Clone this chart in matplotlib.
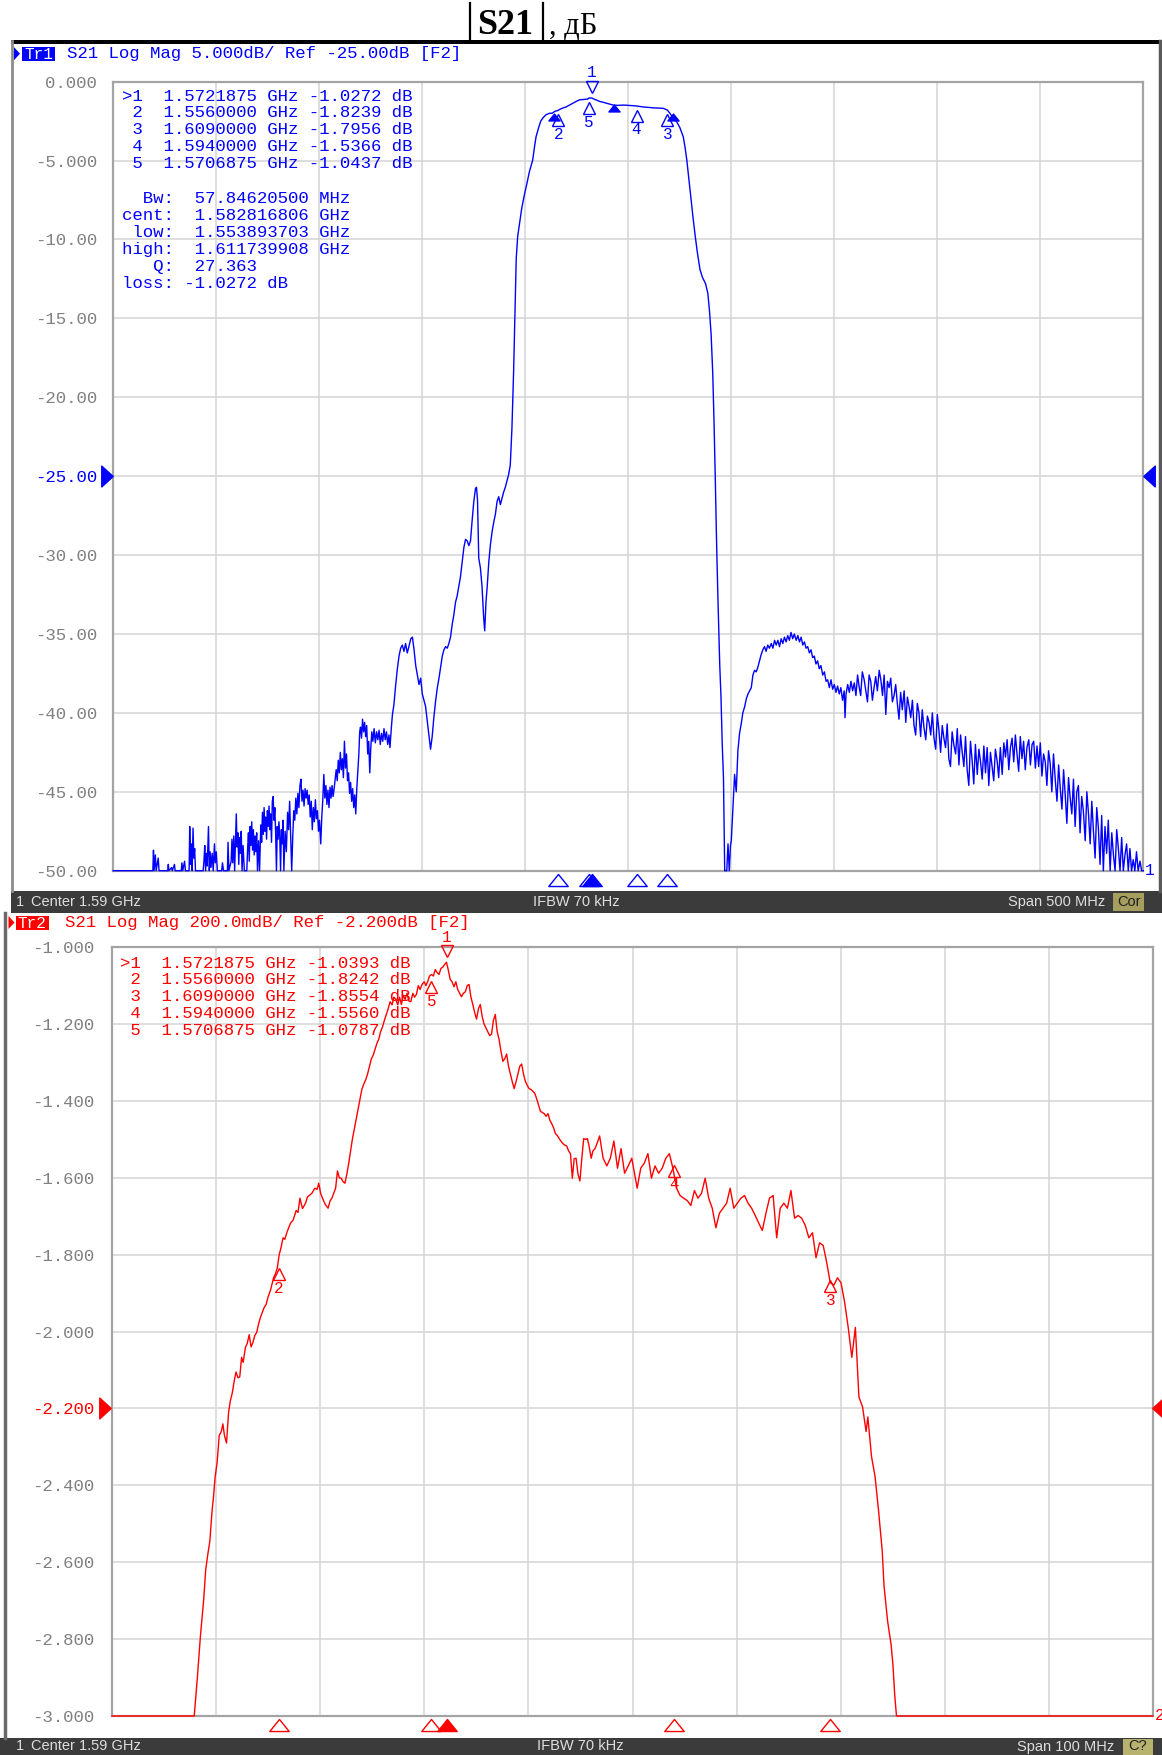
import numpy as np
import matplotlib
matplotlib.use("Agg")
import matplotlib.pyplot as plt
from matplotlib.patches import Rectangle, Polygon
from matplotlib.path import Path
from matplotlib.transforms import offset_copy, blended_transform_factory

# ---------------- instrument settings ----------------
center_ghz = 1.59
top_span_mhz = 500
bot_span_mhz = 100
ifbw_khz = 70
top_scale_db = 5.0
top_ref_db = -25.0
bot_scale_mdb = 200.0
bot_ref_db = -2.2

top_yticks = [0, -5, -10, -15, -20, -25, -30, -35, -40, -45, -50]
top_ylabels = ["0.000", "-5.000", "-10.00", "-15.00", "-20.00", "-25.00",
               "-30.00", "-35.00", "-40.00", "-45.00", "-50.00"]
bot_yticks = [-1.0, -1.2, -1.4, -1.6, -1.8, -2.0, -2.2, -2.4, -2.6, -2.8, -3.0]
bot_ylabels = ["-1.000", "-1.200", "-1.400", "-1.600", "-1.800", "-2.000",
               "-2.200", "-2.400", "-2.600", "-2.800", "-3.000"]

# ---------------- markers ----------------
marker_ghz = [1.5721875, 1.5560000, 1.6090000, 1.5940000, 1.5706875]
top_marker_db = [-1.0272, -1.8239, -1.7956, -1.5366, -1.0437]
bot_marker_db = [-1.0393, -1.8242, -1.8554, -1.5560, -1.0787]
bw_mhz = 57.84620500
bw_cent_ghz = 1.582816806
bw_low_ghz = 1.553893703
bw_high_ghz = 1.611739908
bw_q = 27.363
bw_loss_db = -1.0272
bw_marker_ghz = [bw_low_ghz, bw_cent_ghz, bw_high_ghz]
bw_marker_db = [-2.03, -1.48, -2.03]

# ---------------- top trace (500 MHz span), MHz / dB ----------------
top_mhz_left = [
    1340, 1359.2, 1359.5, 1359.8, 1360.4, 1360.8, 1361.8, 1362.2, 1366.4, 1366.7,
    1367.0, 1368.3, 1368.6, 1369.7, 1370.0, 1373.0, 1373.3, 1373.7, 1374.6, 1375.0,
    1376.8, 1377.1, 1377.5, 1377.9, 1378.3, 1378.7, 1379.1, 1379.5, 1379.9, 1383.6,
    1384.0, 1384.4, 1384.8, 1385.2, 1385.6, 1386.2, 1386.6, 1387.0, 1387.4, 1388.0,
    1388.5, 1389.1, 1389.5, 1390.0, 1390.5, 1392.6, 1393.0, 1393.5, 1395.4, 1395.7,
    1396.1, 1397.2, 1397.6, 1398.0, 1398.5, 1398.9, 1399.3, 1399.7, 1400.1, 1400.5,
    1400.9, 1401.3, 1401.7, 1402.1, 1402.5, 1403.0, 1403.6, 1404.8, 1405.2, 1405.6,
    1406.0, 1406.4, 1406.8, 1407.2, 1407.6, 1408.0, 1408.4, 1408.8, 1409.2, 1409.6,
    1410.0, 1410.5, 1411.0, 1411.6, 1412.0, 1412.4, 1412.8, 1413.2, 1413.6, 1414.0,
    1414.4, 1414.8, 1415.2, 1415.6, 1416.0, 1416.4, 1416.8, 1417.2, 1417.6, 1418.0,
    1418.4, 1418.8, 1419.2, 1419.6, 1420.0, 1420.4, 1420.8, 1421.2, 1421.6, 1422.0,
    1422.4, 1422.8, 1423.4, 1424.0, 1424.6, 1425.1, 1425.6, 1426.1, 1426.6, 1427.1,
    1427.6, 1428.1, 1428.6, 1429.1, 1429.6, 1430.1, 1430.6, 1431.1, 1431.6, 1432.1,
    1432.6, 1433.1, 1433.6, 1434.1, 1434.6, 1435.1, 1435.6, 1436.1, 1436.6, 1437.1,
    1437.6, 1438.1, 1438.6, 1439.1, 1439.6, 1440.1, 1440.7, 1441.2, 1441.7, 1442.2,
    1442.7, 1443.2, 1443.7, 1444.2, 1444.7, 1445.2, 1445.7, 1446.2, 1446.7, 1447.2,
    1447.7, 1448.2, 1448.7, 1449.2, 1449.7, 1450.2, 1450.7, 1451.2, 1451.7, 1452.2,
    1452.7, 1453.2, 1453.7, 1454.2, 1454.7, 1455.2, 1455.7, 1456.2, 1456.7, 1457.2,
    1457.7, 1458.2, 1458.7, 1459.2, 1459.6, 1460.0, 1460.5, 1461.0, 1461.5, 1462.0,
    1462.5, 1463.0, 1463.5, 1464.0, 1464.5, 1465.0, 1465.5, 1466.0, 1466.6, 1467.2,
    1467.8, 1468.4, 1469.0, 1469.6, 1470.2, 1470.8, 1471.4, 1472.0, 1472.6, 1473.2,
    1473.8, 1474.3, 1475.0, 1475.5, 1476.2, 1477.1, 1477.9, 1478.7, 1479.5, 1480.3,
    1481.1, 1481.9, 1482.7, 1483.5, 1484.4, 1485.2, 1486.0, 1486.8, 1487.6, 1488.4,
    1489.2, 1490.0, 1491.6, 1492.4, 1493.2, 1494.0, 1494.8, 1495.6, 1496.5, 1497.3,
    1498.1, 1498.9, 1499.7, 1500.5, 1501.3, 1502.1, 1502.9, 1503.7, 1504.5, 1505.3,
    1506.1, 1506.9, 1507.7, 1508.5, 1509.4, 1510.2, 1511.0, 1511.8, 1512.6, 1513.4,
    1514.2, 1515.0, 1515.8, 1516.3, 1516.8, 1517.4, 1518.2, 1519.0, 1519.8, 1520.3,
    1520.9, 1521.5, 1522.3, 1523.1, 1523.9, 1524.7, 1525.5, 1526.3, 1527.1, 1527.9,
    1528.7, 1529.5, 1530.3, 1531.1, 1531.9, 1532.7,
]
top_db_left = [
    -50, -50, -48.7, -50, -49.0, -50, -49.2, -50, -50, -49.6,
    -50, -49.8, -50, -49.6, -50, -50, -49.5, -50, -49.4, -50,
    -50, -47.2, -49.6, -48.3, -50, -47.3, -49.2, -48.6, -50, -50,
    -49.4, -48.4, -50, -48.9, -49.7, -47.2, -50, -48.8, -49.8, -48.9,
    -50, -48.3, -49.5, -48.8, -50, -50, -49.5, -50, -50, -48.2,
    -50, -49.4, -48.0, -49.5, -47.8, -50, -48.2, -46.4, -48.5, -47.6,
    -49.6, -47.9, -48.9, -47.5, -50, -48.4, -50, -50, -48.6, -47.6,
    -49.4, -47.2, -48.4, -46.9, -48.7, -47.4, -49.0, -47.8, -48.8, -47.6,
    -50, -48.1, -50, -47.1, -48.2, -46.3, -47.7, -46.0, -47.5, -46.6,
    -48.0, -46.2, -47.2, -45.9, -47.4, -46.4, -48.2, -45.6, -45.3, -46.8,
    -46.0, -47.6, -50, -47.2, -48.0, -46.9, -47.8, -50, -47.4, -48.3,
    -46.8, -50, -47.5, -48.8, -46.3, -47.4, -45.6, -47.8, -50, -47.9,
    -46.2, -46.8, -45.4, -46.4, -45.1, -46.0, -44.6, -44.2, -45.6, -44.9,
    -45.9, -44.8, -45.4, -44.9, -45.8, -45.2, -46.6, -45.6, -47.4, -46.0,
    -46.9, -45.5, -46.7, -46.2, -47.5, -46.8, -48.3, -46.6, -45.5, -43.9,
    -45.4, -44.6, -45.8, -44.9, -46.0, -44.7, -45.4, -44.6, -45.3, -44.8,
    -44.2, -43.6, -44.3, -43.0, -43.8, -42.5, -43.6, -42.9, -44.1, -41.8,
    -43.5, -42.6, -44.3, -43.8, -45.1, -44.4, -45.6, -44.8, -46.0, -45.2,
    -46.4, -44.8, -43.7, -42.6, -41.2, -40.9, -41.6, -40.4, -41.2, -40.6,
    -41.5, -40.8, -42.6, -41.8, -43.8, -42.2, -41.2, -41.8, -41.0, -41.9,
    -41.2, -41.7, -41.1, -42.0, -41.3, -41.8, -41.0, -41.7, -41.2, -42.0,
    -41.4, -42.2, -40.9, -40.1, -39.5, -38.2, -37.2, -36.4, -35.9, -35.7,
    -36.1, -35.6, -36.2, -35.8, -35.3, -35.2, -36.0, -37.0, -37.6, -38.2,
    -37.8, -38.8, -39.6, -40.5, -41.4, -42.3, -41.5, -40.3, -39.2, -38.4,
    -37.8, -37.1, -36.4, -36.0, -35.8, -35.9, -35.6, -35.2, -34.4, -33.8,
    -33.0, -32.6, -32.0, -31.4, -30.4, -29.5, -29.0, -29.1, -29.4, -29.1,
    -27.8, -26.6, -25.8, -25.7, -26.5, -30.2, -30.8, -32.0, -34.0, -34.8,
    -33.0, -32.0, -30.4, -29.3, -28.5, -27.9, -27.4, -26.6, -26.3, -26.8,
    -26.4, -26.0, -25.7, -25.3, -24.9, -24.3,
]
top_mhz_pass = [
    1533.5, 1534.3, 1535.0, 1535.6, 1536.3, 1537.2, 1538.3, 1539.5, 1540.7, 1542.0,
    1543.6, 1544.5, 1545.2, 1546.5, 1547.5, 1548.5, 1550.0, 1551.7, 1553.0, 1554.1,
    1555.0, 1556.0, 1556.6, 1558.0, 1559.8, 1561.5, 1563.1, 1564.7, 1566.3, 1568.5,
    1570.4, 1570.7, 1572.2, 1573.7, 1576.1, 1577.7, 1579.3, 1581.0, 1582.6, 1585.0,
    1587.5, 1590.0, 1592.4, 1594.0, 1597.2, 1600.0, 1602.1, 1604.5, 1607.0, 1609.0,
    1610.2, 1611.7, 1613.5, 1615.0, 1616.7, 1617.6, 1618.4, 1619.5, 1620.5, 1621.5,
    1622.5, 1623.5, 1624.8, 1626.0, 1627.5, 1628.6, 1629.4, 1630.2, 1631.0, 1631.6,
    1632.2, 1632.9, 1633.6, 1634.4, 1635.0, 1635.6, 1636.2, 1636.8,
]
top_db_pass = [
    -22.0, -18.5, -14.5, -11.2, -9.8, -9.0, -8.0, -7.2, -6.5, -5.7,
    -4.96, -4.1, -3.5, -2.9, -2.5, -2.3, -2.1, -2.0, -2.0, -1.9,
    -1.85, -1.82, -1.76, -1.68, -1.6, -1.48, -1.36, -1.25, -1.15, -1.12,
    -1.1, -1.04, -1.03, -1.12, -1.25, -1.3, -1.36, -1.42, -1.48, -1.5,
    -1.48, -1.5, -1.52, -1.54, -1.6, -1.63, -1.66, -1.67, -1.69, -1.8,
    -2.0, -2.3, -2.54, -2.9, -3.5, -4.2, -4.96, -6.3, -7.5, -8.7,
    -9.8, -10.8, -11.9, -12.4, -12.8, -13.4, -14.5, -16.0, -18.5, -21.5,
    -25.0, -29.5, -33.2, -37.0, -39.0, -42.0, -44.1, -50,
]
top_mhz_right = [
    1637.8, 1638.4, 1639.0, 1639.6, 1640.0, 1640.8, 1641.6, 1642.4, 1643.2, 1644.0,
    1644.8, 1645.6, 1646.5, 1647.3, 1648.1, 1648.9, 1649.7, 1650.5, 1651.3, 1652.1,
    1652.9, 1653.7, 1654.5, 1655.3, 1656.1, 1656.9, 1657.7, 1658.5, 1659.4, 1660.2,
    1661.0, 1661.8, 1662.6, 1663.4, 1664.2, 1665.0, 1665.8, 1666.6, 1667.4, 1668.2,
    1669.0, 1669.8, 1670.6, 1671.5, 1672.3, 1673.1, 1673.9, 1674.7, 1675.5, 1676.3,
    1677.1, 1677.9, 1678.7, 1679.5, 1680.3, 1681.1, 1681.9, 1682.7, 1683.5, 1684.4,
    1685.2, 1686.0, 1686.8, 1687.6, 1688.4, 1689.2, 1690.0, 1690.8, 1691.6, 1692.4,
    1693.2, 1694.0, 1694.8, 1695.2, 1695.7, 1696.5, 1697.3, 1698.1, 1698.9, 1699.7,
    1700.5, 1701.3, 1702.0, 1702.8, 1703.6, 1704.5, 1705.3, 1706.1, 1706.9, 1707.7,
    1708.5, 1709.3, 1710.1, 1710.9, 1711.8, 1712.6, 1713.4, 1714.2, 1715.0, 1715.8,
    1716.6, 1717.4, 1718.2, 1719.0, 1719.8, 1720.6, 1721.4, 1722.2, 1723.0, 1723.9,
    1724.7, 1725.5, 1726.3, 1727.1, 1727.9, 1728.7, 1729.5, 1730.3, 1731.1, 1731.9,
    1732.7, 1733.5, 1734.4, 1735.2, 1736.0, 1736.8, 1737.6, 1738.4, 1739.2, 1740.0,
    1740.8, 1741.6, 1742.4, 1743.2, 1744.0, 1744.8, 1745.6, 1746.4, 1747.2, 1748.0,
    1748.9, 1749.7, 1750.5, 1751.3, 1752.1, 1752.9, 1753.7, 1754.5, 1755.3, 1756.1,
    1756.9, 1757.7, 1758.5, 1759.4, 1760.2, 1761.0, 1761.8, 1762.6, 1763.4, 1764.2,
    1765.0, 1765.8, 1766.6, 1767.4, 1768.2, 1769.0, 1769.8, 1770.6, 1771.5, 1772.3,
    1773.1, 1773.9, 1774.7, 1775.5, 1776.3, 1777.1, 1777.9, 1778.7, 1779.5, 1780.3,
    1781.1, 1781.9, 1782.7, 1783.5, 1784.4, 1785.2, 1786.0, 1786.8, 1787.6, 1788.4,
    1789.2, 1790.0, 1790.8, 1791.6, 1792.4, 1793.2, 1794.0, 1794.8, 1795.6, 1796.4,
    1797.3, 1798.1, 1798.9, 1799.7, 1800.5, 1801.3, 1802.1, 1802.9, 1803.7, 1804.5,
    1805.3, 1806.1, 1806.9, 1807.7, 1808.5, 1809.3, 1810.1, 1810.9, 1811.8, 1812.6,
    1813.4, 1814.2, 1815.0, 1815.8, 1816.6, 1817.4, 1818.2, 1819.0, 1819.8, 1820.6,
    1821.4, 1822.2, 1823.0, 1823.9, 1824.7, 1825.5, 1826.3, 1827.1, 1827.9, 1828.7,
    1829.5, 1830.3, 1831.1, 1831.9, 1832.7, 1833.5, 1834.3, 1835.1, 1835.9, 1836.7,
    1837.5, 1838.4, 1839.2, 1840.0,
]
top_db_right = [
    -50, -48.3, -50, -48.4, -48.1, -46.0, -43.9, -45.0, -42.4, -41.3,
    -40.7, -40.0, -39.6, -39.1, -38.8, -38.6, -38.4, -37.6, -37.3, -37.4,
    -37.1, -36.7, -36.3, -36.0, -35.8, -36.1, -35.7, -35.9, -35.6, -35.9,
    -35.4, -35.7, -35.4, -35.8, -35.3, -35.6, -35.2, -35.5, -35.1, -35.4,
    -34.9, -35.3, -35.0, -35.4, -35.1, -35.5, -35.2, -35.7, -35.5, -35.9,
    -35.8, -36.2, -36.0, -36.5, -36.4, -36.9, -36.7, -37.2, -37.0, -37.6,
    -37.4, -38.0, -37.9, -38.4, -37.9, -38.5, -38.2, -38.7, -38.3, -38.8,
    -38.4, -39.2, -38.6, -40.3, -38.8, -38.2, -38.7, -38.0, -38.6, -38.1,
    -38.9, -37.6, -38.3, -38.9, -37.4, -37.9, -38.6, -39.3, -37.6, -38.0,
    -39.2, -38.4, -37.7, -38.6, -37.3, -37.9, -38.9, -37.6, -40.1, -38.0,
    -38.4, -37.8, -39.3, -38.9, -38.2, -39.4, -40.4, -38.7, -39.8, -38.6,
    -40.6, -39.0, -39.6, -40.3, -39.2, -40.8, -41.4, -39.4, -40.0, -41.5,
    -39.8, -40.9, -41.7, -40.2, -40.6, -41.4, -40.0, -41.6, -42.3, -40.1,
    -41.1, -42.5, -40.8, -41.6, -42.2, -40.7, -42.9, -43.4, -41.2, -42.0,
    -42.6, -41.0, -43.3, -41.4, -42.5, -43.4, -41.5, -43.6, -44.6, -41.8,
    -43.0, -44.5, -42.0, -43.9, -42.3, -43.1, -44.2, -42.1, -43.8, -42.2,
    -44.6, -42.5, -43.4, -44.3, -42.3, -43.0, -44.1, -42.2, -43.9, -41.9,
    -42.8, -41.7, -43.6, -42.2, -41.6, -43.1, -41.4, -42.6, -43.7, -41.5,
    -42.9, -41.8, -43.6, -42.2, -41.7, -43.3, -42.0, -41.8, -43.5, -42.1,
    -43.4, -41.9, -44.0, -42.6, -43.1, -44.6, -42.4, -43.2, -45.0, -42.6,
    -44.3, -45.6, -43.3, -44.8, -46.1, -43.6, -45.2, -47.0, -44.1, -45.4,
    -46.4, -44.2, -47.2, -45.0, -44.6, -47.6, -45.3, -46.2, -48.1, -45.0,
    -46.4, -48.3, -45.6, -47.5, -49.2, -46.0, -47.3, -49.6, -46.5, -50,
    -47.2, -48.9, -46.8, -50, -47.6, -49.0, -50, -47.4, -48.6, -50,
    -47.9, -50, -49.0, -48.3, -50, -48.6, -50, -49.3, -50, -48.8,
    -50, -49.4, -50, -50,
]

# ---------------- bottom trace (100 MHz span), MHz / dB ----------------
bot_mhz = [
    1540.0, 1547.9, 1548.2, 1548.5, 1548.8, 1549.0, 1549.2, 1549.4, 1549.6, 1549.75,
    1549.9, 1550.1, 1550.3, 1550.5, 1550.65, 1550.8, 1551.0, 1551.2, 1551.37, 1551.55,
    1551.73, 1551.91, 1552.1, 1552.27, 1552.45, 1552.6, 1552.82, 1553.0, 1553.18, 1553.36,
    1553.54, 1553.72, 1553.9, 1554.08, 1554.26, 1554.44, 1554.62, 1554.8, 1554.98, 1555.25,
    1555.52, 1555.7, 1555.88, 1556.06, 1556.25, 1556.43, 1556.6, 1556.79, 1556.97, 1557.15,
    1557.4, 1557.69, 1557.87, 1558.05, 1558.3, 1558.59, 1558.77, 1558.95, 1559.2, 1559.49,
    1559.7, 1559.86, 1560.04, 1560.22, 1560.5, 1560.76, 1560.95, 1561.12, 1561.3, 1561.48,
    1561.66, 1561.84, 1562.02, 1562.2, 1562.38, 1562.56, 1562.74, 1562.92, 1563.1, 1563.3,
    1563.47, 1563.65, 1563.83, 1564.0, 1564.19, 1564.37, 1564.55, 1564.73, 1564.91, 1565.1,
    1565.27, 1565.45, 1565.63, 1565.8, 1565.99, 1566.17, 1566.35, 1566.53, 1566.71, 1566.9,
    1567.08, 1567.26, 1567.45, 1567.62, 1567.8, 1567.98, 1568.16, 1568.34, 1568.52, 1568.7,
    1568.9, 1569.06, 1569.24, 1569.42, 1569.6, 1569.78, 1570.0, 1570.15, 1570.32, 1570.5,
    1570.69, 1570.87, 1571.05, 1571.23, 1571.41, 1571.6, 1571.77, 1571.95, 1572.13, 1572.31,
    1572.49, 1572.67, 1572.85, 1573.03, 1573.21, 1573.4, 1573.57, 1573.75, 1573.94, 1574.12,
    1574.3, 1574.48, 1574.66, 1574.84, 1575.02, 1575.2, 1575.38, 1575.56, 1575.74, 1575.92,
    1576.1, 1576.28, 1576.46, 1576.64, 1576.82, 1577.0, 1577.18, 1577.36, 1577.55, 1577.73,
    1577.91, 1578.09, 1578.27, 1578.45, 1578.63, 1578.81, 1578.99, 1579.17, 1579.35, 1579.53,
    1579.71, 1579.9, 1580.07, 1580.25, 1580.43, 1580.61, 1580.79, 1580.97, 1581.16, 1581.34,
    1581.52, 1581.7, 1581.88, 1582.06, 1582.24, 1582.42, 1582.6, 1582.78, 1582.96, 1583.14,
    1583.32, 1583.5, 1583.68, 1583.86, 1584.04, 1584.22, 1584.4, 1584.58, 1584.76, 1584.95,
    1585.13, 1585.31, 1585.49, 1585.67, 1585.85, 1586.03, 1586.2, 1586.4, 1586.6, 1586.84,
    1587.18, 1587.53, 1587.87, 1588.21, 1588.56, 1588.9, 1589.24, 1589.59, 1589.93, 1590.27,
    1590.45, 1590.79, 1591.13, 1591.48, 1591.82, 1592.16, 1592.51, 1592.85, 1593.2, 1593.54,
    1593.88, 1594.23, 1594.57, 1594.91, 1595.26, 1595.6, 1595.95, 1596.29, 1596.63, 1596.98,
    1597.32, 1597.66, 1598.01, 1598.35, 1598.69, 1599.04, 1599.38, 1599.73, 1600.07, 1600.41,
    1600.76, 1601.1, 1601.44, 1601.79, 1602.13, 1602.47, 1602.82, 1603.16, 1603.51, 1603.85,
    1604.19, 1604.54, 1604.88, 1605.22, 1605.57, 1605.91, 1606.25, 1606.6, 1606.94, 1607.29,
    1607.63, 1607.97, 1608.32, 1608.66, 1609.0, 1609.35, 1609.69, 1610.03, 1610.38, 1610.72,
    1611.07, 1611.41, 1611.58, 1611.75, 1612.1, 1612.44, 1612.61, 1612.96, 1613.3, 1613.64,
    1613.99, 1614.16, 1614.5, 1614.85, 1615.02, 1615.19, 1615.36, 1640.0,
]
bot_db = [
    -3.0, -3.0, -2.9, -2.79, -2.70, -2.62, -2.58, -2.545, -2.47, -2.43,
    -2.38, -2.34, -2.27, -2.26, -2.24, -2.27, -2.29, -2.21, -2.18, -2.16,
    -2.13, -2.105, -2.12, -2.118, -2.067, -2.08, -2.041, -2.03, -2.008, -2.04,
    -2.028, -2.01, -2.002, -1.98, -1.963, -1.95, -1.937, -1.93, -1.911, -1.89,
    -1.86, -1.85, -1.834, -1.80, -1.78, -1.756, -1.76, -1.743, -1.73, -1.718,
    -1.71, -1.685, -1.69, -1.653, -1.68, -1.666, -1.65, -1.646, -1.64, -1.627,
    -1.63, -1.614, -1.64, -1.653, -1.67, -1.679, -1.66, -1.653, -1.64, -1.627,
    -1.582, -1.60, -1.601, -1.61, -1.614, -1.59, -1.562, -1.53, -1.498, -1.47,
    -1.446, -1.42, -1.394, -1.37, -1.356, -1.345, -1.33, -1.31, -1.291, -1.28,
    -1.265, -1.25, -1.239, -1.22, -1.207, -1.19, -1.175, -1.16, -1.142, -1.15,
    -1.13, -1.136, -1.15, -1.13, -1.149, -1.125, -1.136, -1.12, -1.14, -1.142,
    -1.12, -1.13, -1.123, -1.10, -1.11, -1.097, -1.09, -1.10, -1.090, -1.075,
    -1.071, -1.075, -1.058, -1.066, -1.071, -1.055, -1.052, -1.045, -1.039, -1.06,
    -1.084, -1.09, -1.103, -1.09, -1.110, -1.12, -1.129, -1.12, -1.116, -1.10,
    -1.097, -1.13, -1.149, -1.17, -1.187, -1.16, -1.149, -1.18, -1.200, -1.21,
    -1.220, -1.23, -1.226, -1.19, -1.175, -1.22, -1.239, -1.27, -1.297, -1.29,
    -1.278, -1.31, -1.330, -1.35, -1.368, -1.35, -1.330, -1.31, -1.304, -1.33,
    -1.349, -1.36, -1.368, -1.37, -1.375, -1.38, -1.394, -1.41, -1.427, -1.43,
    -1.433, -1.44, -1.433, -1.45, -1.459, -1.47, -1.485, -1.49, -1.498, -1.505,
    -1.511, -1.515, -1.517, -1.53, -1.537, -1.601, -1.55, -1.549, -1.59, -1.608,
    -1.55, -1.498, -1.50, -1.498, -1.52, -1.549, -1.53, -1.524, -1.51, -1.491,
    -1.549, -1.569, -1.549, -1.504, -1.575, -1.524, -1.588, -1.569, -1.549, -1.601,
    -1.627, -1.575, -1.562, -1.537, -1.601, -1.569, -1.588, -1.575, -1.549, -1.537,
    -1.575, -1.627, -1.646, -1.653, -1.659, -1.672, -1.633, -1.653, -1.640, -1.601,
    -1.653, -1.679, -1.730, -1.692, -1.679, -1.666, -1.627, -1.679, -1.666, -1.653,
    -1.646, -1.666, -1.679, -1.698, -1.718, -1.737, -1.692, -1.653, -1.646, -1.756,
    -1.679, -1.666, -1.679, -1.633, -1.705, -1.698, -1.705, -1.724, -1.756, -1.743,
    -1.808, -1.769, -1.776, -1.821, -1.873, -1.879, -1.860, -1.873, -1.924, -1.989,
    -2.067, -1.989, -2.079, -2.170, -2.196, -2.260, -2.222, -2.325, -2.377, -2.467,
    -2.571, -2.661, -2.752, -2.816, -2.868, -2.946, -3.0, -3.0,
]

# ---------------- styling ----------------
BLUE = "#0000ff"
RED = "#ff0000"
GRID = "#d4d4d4"
FRAME = "#a4a4a4"
TICKC = "#808080"
MONO = "Liberation Mono"
SANS = "Liberation Sans"
SERIF = "Liberation Serif"
BAR = "#3b3b3b"
BARTXT = "#dedede"
TXT_FS = 12.5

W, H = 1162, 1755
fig = plt.figure(figsize=(W / 100, H / 100), dpi=100)
fig.patch.set_facecolor("white")

bg = fig.add_axes([0, 0, 1, 1], zorder=0)
bg.set_xlim(0, W)
bg.set_ylim(H, 0)
bg.axis("off")

fg = fig.add_axes([0, 0, 1, 1], zorder=10)
fg.set_xlim(0, W)
fg.set_ylim(H, 0)
fg.axis("off")
fg.patch.set_alpha(0)

# title
bg.plot([470, 470], [3, 39], color="black", lw=1.6)
bg.plot([543, 543], [3, 39], color="black", lw=1.6)
bg.text(477, 33.5, "S21", fontfamily=SERIF, fontweight="bold", fontsize=26,
        va="baseline", ha="left", color="black")
bg.text(549, 33.5, ", дБ", fontfamily=SERIF, fontsize=22, va="baseline",
        ha="left", color="black")

# panel frames
bg.add_patch(Rectangle((11, 40), 1151, 3.5, color="black", lw=0))
bg.plot([11.5, 11.5], [41, 891], color="#8c8c8c", lw=2)
bg.plot([1160, 1160], [41, 891], color="#5a5a5a", lw=2.5)
bg.plot([5, 5], [913, 1738], color="#6a6a6a", lw=2.5)
bg.add_patch(Rectangle((11, 891), 1151, 21.5, color=BAR, lw=0))
bg.add_patch(Rectangle((0, 1737.5), 1162, 17.5, color=BAR, lw=0))


def header(y, x_tri, x_box, x_txt, tag, text, color):
    bg.add_patch(Polygon([[x_tri, y - 6.5], [x_tri, y + 6.5], [x_tri + 6, y]],
                         closed=True, color=color, lw=0))
    bg.add_patch(Rectangle((x_box, y - 7), 33, 14, color=color, lw=0))
    bg.text(x_box + 16.5, y + 0.5, tag, color="white", fontfamily=MONO,
            fontsize=11.5, ha="center", va="center")
    bg.text(x_txt, y, text, color=color, fontfamily=MONO, fontsize=TXT_FS,
            ha="left", va="center")


header(53.7, 14, 22, 67, "Tr1",
       f"S21 Log Mag {top_scale_db:.3f}dB/ Ref {top_ref_db:.2f}dB [F2]", BLUE)
header(922.5, 8.5, 15.5, 65, "Tr2",
       f"S21 Log Mag {bot_scale_mdb:.1f}mdB/ Ref {bot_ref_db:.3f}dB [F2]", RED)


def status(y, span, box_x, box_w, box_h, box_txt, box_col, ifbw_x, span_x):
    bg.text(16, y, "1", color=BARTXT, fontfamily=SANS, fontsize=10.5, va="center")
    bg.text(31, y, f"Center {center_ghz:.2f} GHz", color=BARTXT, fontfamily=SANS,
            fontsize=10.5, va="center")
    bg.text(ifbw_x, y, f"IFBW {ifbw_khz} kHz", color=BARTXT, fontfamily=SANS,
            fontsize=10.5, va="center", ha="center")
    bg.text(span_x, y, f"Span {span} MHz", color=BARTXT, fontfamily=SANS,
            fontsize=10.5, va="center", ha="right")
    bg.add_patch(Rectangle((box_x, y - box_h / 2), box_w, box_h, color=box_col, lw=0))
    bg.text(box_x + box_w / 2, y, box_txt, color="#202020", fontfamily=SANS,
            fontsize=10.5, va="center", ha="center")


status(901.7, top_span_mhz, 1113, 31, 18, "Cor", "#a59e5e", 576, 1105)
status(1746.5, bot_span_mhz, 1123, 30, 16, "C?", "#b7b36f", 580, 1114)

# marker tables (on top of plot areas)
row_h = 16.9
for i, (f, v) in enumerate(zip(marker_ghz, top_marker_db)):
    s = f"{'>' if i == 0 else ' '}{i + 1}  {f:.7f} GHz {v:.4f} dB"
    fg.text(122, 96 + i * row_h, s, color=BLUE, fontfamily=MONO, fontsize=TXT_FS,
            va="center", ha="left")
bw_rows = [f"  Bw:  {bw_mhz:.8f} MHz",
           f"cent:  {bw_cent_ghz:.9f} GHz",
           f" low:  {bw_low_ghz:.9f} GHz",
           f"high:  {bw_high_ghz:.9f} GHz",
           f"   Q:  {bw_q:.3f}",
           f"loss: {bw_loss_db:.4f} dB"]
for i, s in enumerate(bw_rows):
    fg.text(122, 198.5 + i * 17.0, s, color=BLUE, fontfamily=MONO, fontsize=TXT_FS,
            va="center", ha="left")
for i, (f, v) in enumerate(zip(marker_ghz, bot_marker_db)):
    s = f"{'>' if i == 0 else ' '}{i + 1}  {f:.7f} GHz {v:.4f} dB"
    fg.text(120, 963 + i * 16.8, s, color=RED, fontfamily=MONO, fontsize=TXT_FS,
            va="center", ha="left")

# ---------------- plot axes ----------------
WIDE_UP = Path([(-1, -0.62), (1, -0.62), (0, 0.62), (-1, -0.62)],
               [Path.MOVETO, Path.LINETO, Path.LINETO, Path.CLOSEPOLY])
RIGHT_TRI = Path([(-0.55, -1), (-0.55, 1), (0.55, 0), (-0.55, -1)],
                 [Path.MOVETO, Path.LINETO, Path.LINETO, Path.CLOSEPOLY])
LEFT_TRI = Path([(0.55, -1), (0.55, 1), (-0.55, 0), (0.55, -1)],
                [Path.MOVETO, Path.LINETO, Path.LINETO, Path.CLOSEPOLY])


def setup(ax, f0, f1, ylo, yhi, yticks, ylabels, ref_idx, color, pad):
    ax.set_facecolor("white")
    ax.set_xlim(f0, f1)
    ax.set_ylim(ylo, yhi)
    ax.set_xticks([f0 + (f1 - f0) * k / 10 for k in range(1, 10)])
    ax.set_xticklabels([])
    ax.set_yticks(yticks)
    ax.set_yticklabels(ylabels, fontfamily=MONO, fontsize=TXT_FS, color=TICKC)
    ax.get_yticklabels()[ref_idx].set_color(color)
    ax.tick_params(length=0, pad=pad)
    ax.grid(True, color=GRID, lw=1.1)
    ax.set_axisbelow(True)
    for s in ax.spines.values():
        s.set_color(FRAME)
        s.set_linewidth(1.6)


def decorate(ax, mdb, ref, color, trace_no, ref_dx_l, ref_dx_r, below_dy):
    t = ax.transData
    ax.plot([marker_ghz[0]], [mdb[0]], marker="v", ms=9, mfc="none", mec=color,
            mew=1.0, ls="none", clip_on=False, zorder=6,
            transform=offset_copy(t, fig=fig, y=11, units="dots"))
    ax.text(marker_ghz[0], mdb[0], "1", color=color, fontfamily=MONO, fontsize=11.5,
            ha="center", va="center", clip_on=False, zorder=6,
            transform=offset_copy(t, fig=fig, y=25, units="dots"))
    for i in range(1, 5):
        ax.plot([marker_ghz[i]], [mdb[i]], marker="^", ms=9, mfc="none", mec=color,
                mew=1.0, ls="none", clip_on=False, zorder=6,
                transform=offset_copy(t, fig=fig, y=-10, units="dots"))
        ax.text(marker_ghz[i], mdb[i], str(i + 1), color=color, fontfamily=MONO,
                fontsize=11.5, ha="center", va="center", clip_on=False, zorder=6,
                transform=offset_copy(t, fig=fig, y=-24, units="dots"))
    bt = offset_copy(blended_transform_factory(ax.transData, ax.transAxes),
                     fig=fig, y=below_dy, units="dots")
    for i in range(1, 5):
        ax.plot([marker_ghz[i]], [0], marker=WIDE_UP, ms=14, mfc="white", mec=color,
                mew=1.0, ls="none", clip_on=False, transform=bt, zorder=6)
    ax.plot([marker_ghz[0]], [0], marker=WIDE_UP, ms=14, mfc=color, mec=color,
            mew=1.0, ls="none", clip_on=False, transform=bt, zorder=7)
    lt = blended_transform_factory(ax.transAxes, ax.transData)
    ax.plot([0], [ref], marker=RIGHT_TRI, ms=15, color=color, ls="none",
            clip_on=False, zorder=6,
            transform=offset_copy(lt, fig=fig, x=ref_dx_l, units="dots"))
    ax.plot([1], [ref], marker=LEFT_TRI, ms=15, color=color, ls="none",
            clip_on=False, zorder=6,
            transform=offset_copy(lt, fig=fig, x=ref_dx_r, units="dots"))
    ax.text(1, ax.get_ylim()[0], trace_no, color=color, fontfamily=MONO,
            fontsize=11.5, ha="left", va="center", clip_on=False,
            transform=offset_copy(lt, fig=fig, x=2, units="dots"))


top_f0 = center_ghz - top_span_mhz / 2000
top_f1 = center_ghz + top_span_mhz / 2000
bot_f0 = center_ghz - bot_span_mhz / 2000
bot_f1 = center_ghz + bot_span_mhz / 2000

ax1 = fig.add_axes([113.3 / W, 1 - 870.7 / H, 1030 / W, 789 / H], zorder=2)
setup(ax1, top_f0, top_f1, -50, 0, top_yticks, top_ylabels,
      top_yticks.index(top_ref_db), BLUE, 11.5)
top_ghz = np.array(top_mhz_left + top_mhz_pass + top_mhz_right) / 1000.0
top_val = np.array(top_db_left + top_db_pass + top_db_right)
ax1.plot(top_ghz, top_val, color=BLUE, lw=1.0, zorder=4, clip_on=False)
ax1.plot(bw_marker_ghz, bw_marker_db, marker=WIDE_UP, ms=8, color=BLUE, ls="none",
         zorder=6, clip_on=False,
         transform=offset_copy(ax1.transData, fig=fig, y=-3, units="dots"))
decorate(ax1, top_marker_db, top_ref_db, BLUE, "1", -6, 6, -9)

ax2 = fig.add_axes([112 / W, 1 - 1716 / H, 1041 / W, 768.8 / H], zorder=2)
setup(ax2, bot_f0, bot_f1, -3.0, -1.0, bot_yticks, bot_ylabels,
      bot_yticks.index(bot_ref_db), RED, 12.8)
ax2.plot(np.array(bot_mhz) / 1000.0, bot_db, color=RED, lw=1.0, zorder=4,
         clip_on=False)
decorate(ax2, bot_marker_db, bot_ref_db, RED, "2", -7, 5, -9)

fig.savefig("out.png", dpi=100, facecolor="white")
